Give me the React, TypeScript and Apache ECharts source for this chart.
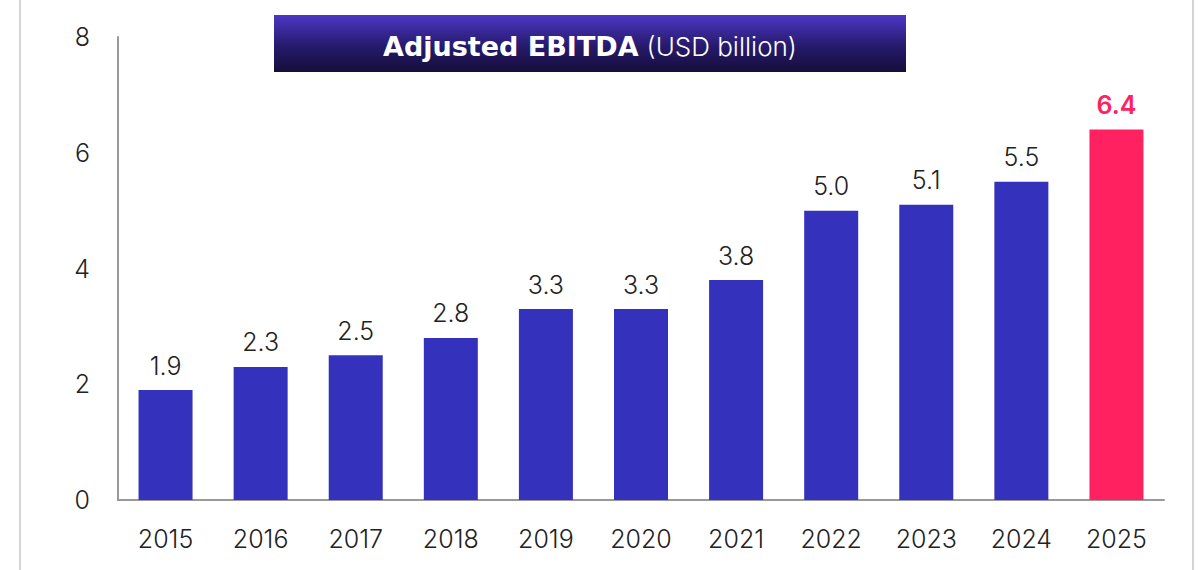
import React, { useEffect, useRef } from "react";
import * as echarts from "echarts";

const categories = ["2015", "2016", "2017", "2018", "2019", "2020", "2021", "2022", "2023", "2024", "2025"];
const values = [1.9, 2.3, 2.5, 2.8, 3.3, 3.3, 3.8, 5.0, 5.1, 5.5, 6.4];
const highlightIndex = 10;
const yTicks = [0, 2, 4, 6, 8];

export default function App() {
  const ref = useRef<HTMLDivElement>(null);
  useEffect(() => {
    if (!ref.current) return;
    const chart = echarts.init(ref.current, null, { renderer: "svg" });
    const blue = "#3431BD";
    const pink = "#FF2160";
    const font = "Inter";
    chart.setOption({
      animation: false,
      backgroundColor: "#ffffff",
      grid: { left: 118, right: 34, top: 37, bottom: 70 },
      xAxis: {
        type: "category",
        data: categories,
        axisLine: { lineStyle: { color: "#999999", width: 2 } },
        axisTick: { show: false },
        axisLabel: { color: "#222222", fontSize: 25, fontWeight: 300, fontFamily: font, margin: 26 },
      },
      yAxis: {
        type: "value",
        min: yTicks[0],
        max: yTicks[yTicks.length - 1],
        interval: 2,
        axisLine: { show: true, lineStyle: { color: "#999999", width: 2 } },
        axisTick: { show: false },
        splitLine: { show: false },
        axisLabel: { color: "#222222", fontSize: 25, fontWeight: 300, fontFamily: font, margin: 28 },
      },
      graphic: [
        { type: "line", shape: { x1: 20, y1: 0, x2: 20, y2: 570 }, style: { stroke: "#d4d4d4", lineWidth: 2 } },
        { type: "line", shape: { x1: 1193, y1: 0, x2: 1193, y2: 570 }, style: { stroke: "#d4d4d4", lineWidth: 2 } },
        {
          type: "rect",
          shape: { x: 274, y: 15, width: 632, height: 57 },
          style: {
            fill: new echarts.graphic.LinearGradient(0, 0, 0, 1, [
              { offset: 0, color: "#4b37c4" },
              { offset: 0.55, color: "#261a6b" },
              { offset: 1, color: "#150e3a" },
            ]),
          },
        },
        {
          type: "text",
          x: 590,
          y: 46,
          style: {
            text: "{b|Adjusted EBITDA}{s| }{r|(USD billion)}",
            align: "center",
            verticalAlign: "middle",
            rich: {
              b: { fill: "#ffffff", fontSize: 27, fontWeight: "bold", fontFamily: "DejaVu Sans" },
              s: { fontSize: 10, width: 8 },
              r: { fill: "#ffffff", fontSize: 26, fontWeight: 300, fontFamily: font },
            },
          },
        },
      ],
      series: [
        {
          type: "bar",
          barWidth: 54,
          data: values.map((v, i) => ({
            value: v,
            itemStyle: { color: i === highlightIndex ? pink : blue },
            label: i === highlightIndex ? { color: pink, fontWeight: 600 } : undefined,
          })),
          label: {
            show: true,
            position: "top",
            distance: 12,
            fontSize: 25,
            fontWeight: 300,
            fontFamily: font,
            color: "#222222",
            formatter: (p: any) => Number(p.value).toFixed(1),
          },
        },
      ],
    });
    return () => chart.dispose();
  }, []);
  return <div ref={ref} style={{ position: "fixed", left: 0, top: 0, width: 1198, height: 570 }} />;
}
